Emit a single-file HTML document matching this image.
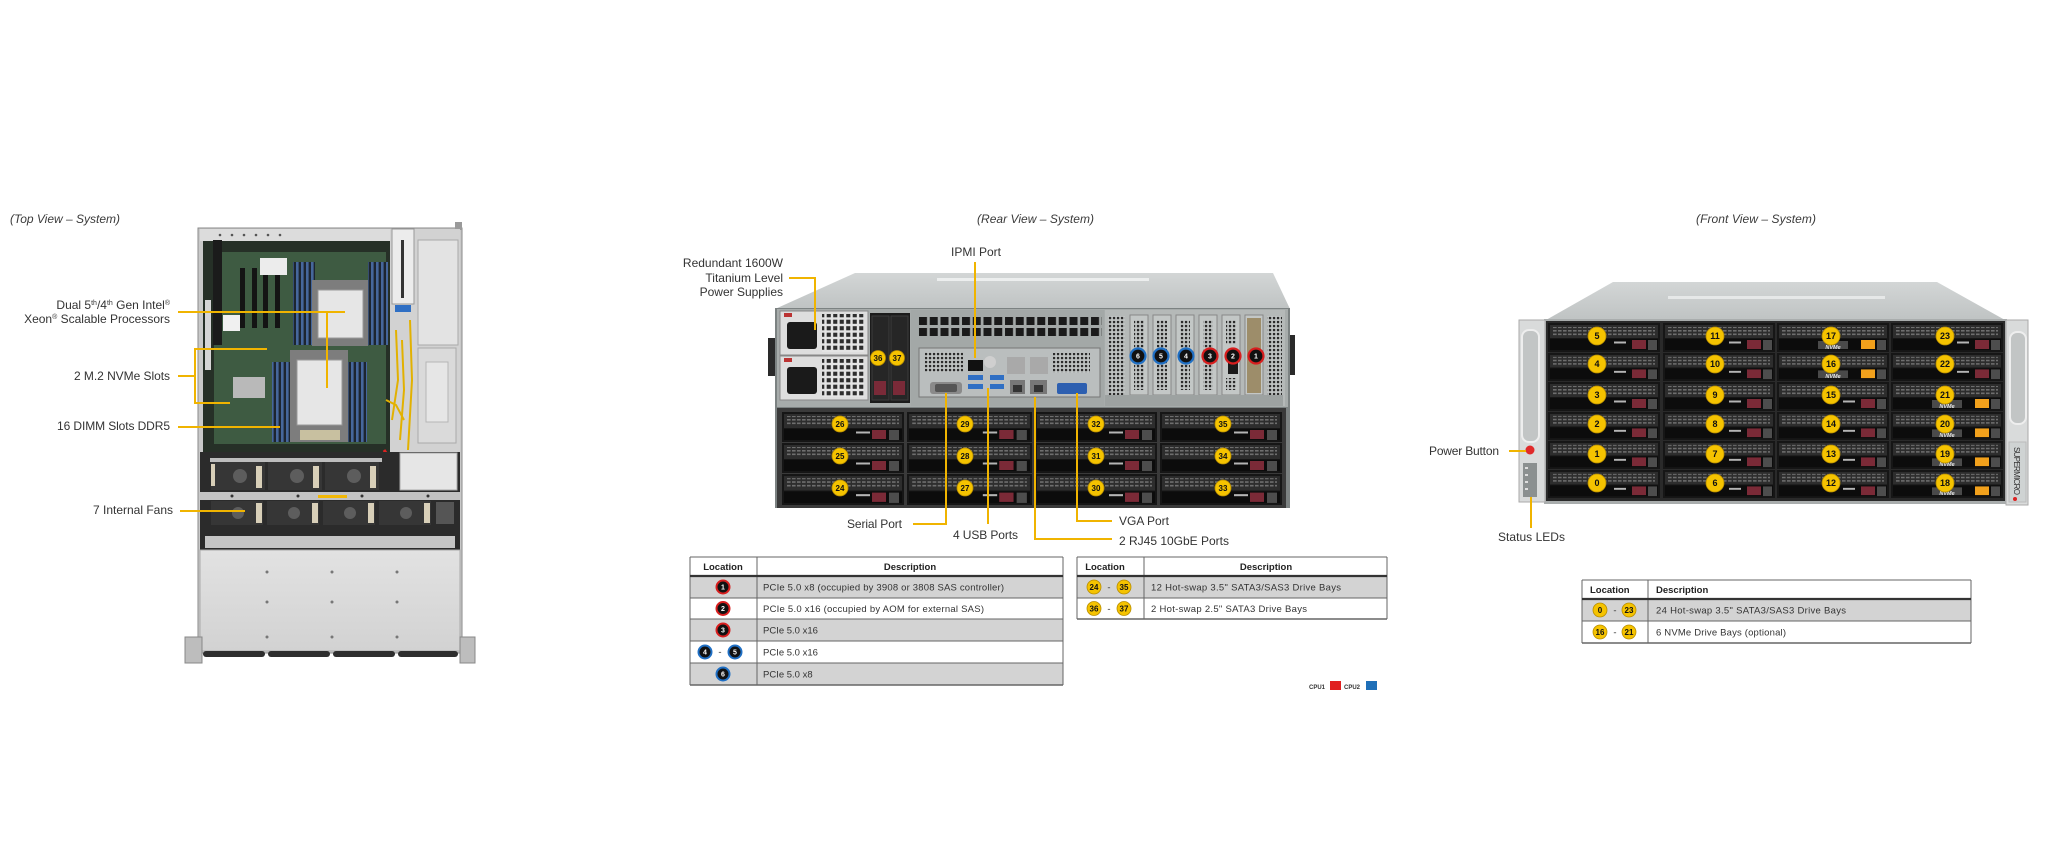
<!DOCTYPE html>
<html lang="en"><head><meta charset="utf-8"><title>System views</title>
<style>
html,body{margin:0;padding:0;background:#ffffff;width:2048px;height:853px;overflow:hidden}
svg{display:block}
text{font-family:"Liberation Sans",Arial,sans-serif;fill:#333}
.lb{font-size:12px}
.tt{font-size:12px;font-style:italic;fill:#3a3a3a}
.th{font-size:9.5px;font-weight:bold;fill:#222}
.td{font-size:9.5px;fill:#333}
.n{font-size:8px;font-weight:bold;fill:#111;text-anchor:middle}
.nf{font-size:9px;font-weight:bold;fill:#111;text-anchor:middle}
.nw{font-size:7px;font-weight:bold;fill:#fff;text-anchor:middle}
.y{stroke:#f0b400;stroke-width:2;fill:none}
.yc{fill:#f5c300;stroke:#b88e00;stroke-width:0.8}
.nv{font-size:5.5px;font-weight:bold;font-style:italic;fill:#e8e8e8;text-anchor:middle}
</style></head><body>
<svg width="2048" height="853" viewBox="0 0 2048 853" xmlns="http://www.w3.org/2000/svg">
<defs>
 <pattern id="grl" width="5" height="3.5" patternUnits="userSpaceOnUse"><rect width="3.6" height="1.6" fill="#6e6e6e"/></pattern>
 <pattern id="vent" width="4" height="4" patternUnits="userSpaceOnUse"><rect width="4" height="4" fill="#c2c6c5"/><rect x="0.9" y="0.9" width="2.3" height="2.3" fill="#2b2b2b"/></pattern>
 <pattern id="hole" x="918" y="316" width="10.75" height="11" patternUnits="userSpaceOnUse"><rect width="10.75" height="11" fill="#a3a8a7"/><rect x="1" y="1" width="8" height="8" fill="#1a1a1a"/></pattern>
 <pattern id="dimm" width="5" height="10" patternUnits="userSpaceOnUse"><rect width="5" height="10" fill="#1d2530"/><rect x="1" width="2.6" height="10" fill="#46679c"/></pattern>
 <pattern id="psuv" width="6.5" height="6.5" patternUnits="userSpaceOnUse"><rect width="6.5" height="6.5" fill="#e4e4e4"/><rect x="1.2" y="1.2" width="4.1" height="4.1" fill="#2d2d2d"/></pattern>
 <linearGradient id="plate" x1="0" y1="0" x2="0" y2="1"><stop offset="0" stop-color="#e2e2e2"/><stop offset="1" stop-color="#d2d2d2"/></linearGradient>
 <linearGradient id="topS" x1="0" y1="0" x2="0" y2="1"><stop offset="0" stop-color="#d3d6d6"/><stop offset="1" stop-color="#bfc3c3"/></linearGradient>
 <symbol id="bR" viewBox="0 0 122 30" preserveAspectRatio="none">
  <rect width="122" height="30" fill="#161616"/>
  <rect x="2" y="2" width="118" height="14" fill="#2d2d2d"/>
  <rect x="5" y="4" width="112" height="10" fill="url(#grl)"/>
  <rect x="2" y="17" width="118" height="11" fill="#0c0c0c"/>
  <rect x="74" y="19.5" width="14" height="2" fill="#b5b5b5"/>
  <rect x="90" y="18" width="14" height="9" fill="#7b2a37"/>
  <rect x="107" y="18" width="10" height="10" fill="#4d4d4d"/>
 </symbol>
 <symbol id="bF" viewBox="0 0 112 29" preserveAspectRatio="none">
  <rect width="112" height="29" fill="#161616"/>
  <rect x="2" y="2" width="108" height="13" fill="#2d2d2d"/>
  <rect x="5" y="4" width="102" height="9" fill="url(#grl)"/>
  <rect x="2" y="16" width="108" height="11" fill="#0c0c0c"/>
  <rect x="66" y="18.5" width="12" height="2" fill="#b5b5b5"/>
  <rect x="84" y="17" width="14" height="9" fill="#7b2a37"/>
  <rect x="100" y="17" width="9" height="10" fill="#4d4d4d"/>
 </symbol>
 <symbol id="bN" viewBox="0 0 112 29" preserveAspectRatio="none">
  <rect width="112" height="29" fill="#161616"/>
  <rect x="2" y="2" width="108" height="13" fill="#2d2d2d"/>
  <rect x="5" y="4" width="102" height="9" fill="url(#grl)"/>
  <rect x="2" y="16" width="108" height="11" fill="#0c0c0c"/>
  <rect x="41" y="18" width="30" height="8" fill="#4a4a4a"/>
  <rect x="84" y="17" width="14" height="9" fill="#f2a11c"/>
  <rect x="100" y="17" width="9" height="10" fill="#4d4d4d"/>
 </symbol>
</defs>

<!-- ================= TOP VIEW ================= -->
<text class="tt" x="10" y="223" textLength="110">(Top View – System)</text>

<rect x="198" y="228" width="264" height="425" fill="#c9c9c9" stroke="#8a8a8a"/>
<rect x="455" y="222" width="7" height="8" fill="#9a9a9a"/>
<rect x="200" y="229" width="190" height="12" fill="#dcdcdc"/>
<g fill="#555"><circle cx="220" cy="235" r="1.3"/><circle cx="232" cy="235" r="1.3"/><circle cx="244" cy="235" r="1.3"/><circle cx="256" cy="235" r="1.3"/><circle cx="268" cy="235" r="1.3"/><circle cx="280" cy="235" r="1.3"/></g>
<rect x="203" y="241" width="188" height="212" fill="#263027"/>
<rect x="214" y="252" width="172" height="192" fill="#3e5b42"/>
<rect x="213" y="240" width="9" height="105" fill="#1b1b1b"/>
<rect x="205" y="300" width="6" height="70" fill="#d5d5d5"/>
<g fill="#141414"><rect x="240" y="268" width="5" height="60"/><rect x="252" y="268" width="5" height="60"/><rect x="263" y="268" width="5" height="60"/><rect x="275" y="268" width="5" height="60"/></g>
<rect x="260" y="258" width="27" height="17" fill="#ececec"/>
<rect x="223" y="315" width="17" height="16" fill="#f0f0f0"/>
<rect x="233" y="377" width="32" height="21" fill="#b9b9b9"/>
<!-- DIMMs -->
<rect x="293" y="262" width="22" height="83" fill="url(#dimm)"/>
<rect x="368" y="262" width="20" height="83" fill="url(#dimm)"/>
<rect x="272" y="362" width="21" height="80" fill="url(#dimm)"/>
<rect x="347" y="362" width="20" height="80" fill="url(#dimm)"/>
<!-- CPUs -->
<rect x="312" y="280" width="56" height="66" fill="#7d7d7d"/>
<rect x="318" y="290" width="45" height="48" fill="#e6e6e6" stroke="#999"/>
<rect x="290" y="350" width="58" height="92" fill="#7d7d7d"/>
<rect x="297" y="360" width="45" height="65" fill="#e6e6e6" stroke="#999"/>
<rect x="300" y="430" width="40" height="10" fill="#c8c0a0"/>
<!-- right PSU bay -->
<rect x="390" y="229" width="70" height="224" fill="#d2d2d2"/>
<rect x="392" y="229" width="22" height="75" fill="#ececec" stroke="#999"/>
<rect x="401" y="240" width="3" height="58" fill="#333"/>
<rect x="395" y="305" width="16" height="7" fill="#2f6fc4"/>
<rect x="418" y="240" width="40" height="105" fill="#e3e3e3" stroke="#aaa"/>
<rect x="418" y="348" width="38" height="95" fill="#dadada" stroke="#aaa"/>
<rect x="426" y="362" width="22" height="60" fill="#e6e6e6" stroke="#b5b5b5"/>
<g stroke="#e2b100" stroke-width="2" fill="none"><path d="M396 330 L398 380 L392 420"/><path d="M402 340 L404 390 L400 440"/><path d="M386 400 L396 405 L404 420"/><path d="M410 320 L412 380 L408 450"/></g>
<path d="M384 450 L392 462 L398 470" stroke="#d22" stroke-width="3" fill="none"/>
<!-- fans -->
<rect x="200" y="452" width="260" height="98" fill="#2b2b2b"/>
<rect x="210" y="458" width="172" height="4" fill="#bdbdbd"/>
<g>
 <rect x="211" y="462" width="54" height="28" fill="#363636"/><circle cx="240" cy="476" r="7" fill="#5d5d5d"/><rect x="256" y="466" width="6" height="22" fill="#d8cfb8"/>
 <rect x="268" y="462" width="54" height="28" fill="#363636"/><circle cx="297" cy="476" r="7" fill="#5d5d5d"/><rect x="313" y="466" width="6" height="22" fill="#d8cfb8"/>
 <rect x="325" y="462" width="54" height="28" fill="#363636"/><circle cx="354" cy="476" r="7" fill="#5d5d5d"/><rect x="370" y="466" width="6" height="22" fill="#d8cfb8"/>
 <rect x="211" y="464" width="4" height="22" fill="#d8cfb8"/>
</g>
<rect x="400" y="453" width="57" height="37" fill="#e6e6e6" stroke="#aaa"/>
<rect x="200" y="492" width="260" height="8" fill="#c2c2c2"/>
<g fill="#333"><circle cx="232" cy="496" r="1.5"/><circle cx="298" cy="496" r="1.5"/><circle cx="362" cy="496" r="1.5"/><circle cx="428" cy="496" r="1.5"/></g>
<rect x="318" y="495" width="29" height="3" fill="#f2b705"/>
<g>
 <rect x="211" y="501" width="52" height="24" fill="#363636"/><circle cx="238" cy="513" r="6" fill="#5d5d5d"/><rect x="256" y="503" width="6" height="20" fill="#d8cfb8"/>
 <rect x="267" y="501" width="52" height="24" fill="#363636"/><circle cx="294" cy="513" r="6" fill="#5d5d5d"/><rect x="312" y="503" width="6" height="20" fill="#d8cfb8"/>
 <rect x="323" y="501" width="52" height="24" fill="#363636"/><circle cx="350" cy="513" r="6" fill="#5d5d5d"/><rect x="368" y="503" width="6" height="20" fill="#d8cfb8"/>
 <rect x="379" y="501" width="52" height="24" fill="#363636"/><circle cx="406" cy="513" r="6" fill="#5d5d5d"/><rect x="424" y="503" width="6" height="20" fill="#d8cfb8"/>
 <rect x="436" y="502" width="18" height="22" fill="#555"/>
</g>
<rect x="205" y="536" width="250" height="12" fill="#c5c5c5"/>
<rect x="200" y="550" width="260" height="101" fill="url(#plate)" stroke="#aaa"/>
<g fill="#777"><circle cx="267" cy="572" r="1.5"/><circle cx="332" cy="572" r="1.5"/><circle cx="397" cy="572" r="1.5"/><circle cx="267" cy="602" r="1.5"/><circle cx="332" cy="602" r="1.5"/><circle cx="397" cy="602" r="1.5"/><circle cx="267" cy="637" r="1.5"/><circle cx="332" cy="637" r="1.5"/><circle cx="397" cy="637" r="1.5"/></g>
<g fill="#2e2e2e"><rect x="203" y="651" width="62" height="6" rx="3"/><rect x="268" y="651" width="62" height="6" rx="3"/><rect x="333" y="651" width="62" height="6" rx="3"/><rect x="398" y="651" width="60" height="6" rx="3"/></g>
<rect x="185" y="637" width="17" height="26" fill="#bdbdbd" stroke="#888"/>
<rect x="460" y="637" width="15" height="26" fill="#bdbdbd" stroke="#888"/>

<!-- top labels -->
<text class="lb" x="170" y="309" text-anchor="end">Dual 5<tspan font-size="7" dy="-4">th</tspan><tspan dy="4">/4</tspan><tspan font-size="7" dy="-4">th</tspan><tspan dy="4"> Gen Intel</tspan><tspan font-size="7" dy="-4">®</tspan></text>
<text class="lb" x="170" y="323" text-anchor="end">Xeon<tspan font-size="7" dy="-4">®</tspan><tspan dy="4"> Scalable Processors</tspan></text>
<text class="lb" x="74" y="380" textLength="96">2 M.2 NVMe Slots</text>
<text class="lb" x="57" y="430" textLength="113">16 DIMM Slots DDR5</text>
<text class="lb" x="93" y="514" textLength="80">7 Internal Fans</text>
<path class="y" d="M178 312 H345 M327 312 V388"/>
<path class="y" d="M178 376 H195 M267 349 H195 V403 H230"/>
<path class="y" d="M178 427 H280"/>
<path class="y" d="M180 511 H245"/>

<!-- ================= REAR VIEW ================= -->
<text class="tt" x="977" y="223" textLength="117">(Rear View – System)</text>

<polygon points="855,273 1273,273 1290,309 775,309" fill="url(#topS)"/>
<rect x="937" y="278" width="212" height="3" fill="#eceeee"/>
<rect x="768" y="338" width="9" height="38" fill="#2a2a2a"/>
<rect x="1287" y="335" width="8" height="40" fill="#2a2a2a"/>
<rect x="775" y="308" width="515" height="200" fill="#7c8282"/>
<rect x="777" y="309" width="511" height="98" fill="#a7acab"/>
<!-- PSUs -->
<rect x="780" y="311" width="88" height="44" fill="#dedede" stroke="#888"/>
<rect x="787" y="322" width="30" height="27" fill="#1a1a1a" rx="3"/>
<rect x="822" y="314" width="42" height="38" fill="url(#psuv)"/>
<rect x="780" y="356" width="88" height="44" fill="#dedede" stroke="#888"/>
<rect x="787" y="367" width="30" height="27" fill="#1a1a1a" rx="3"/>
<rect x="822" y="359" width="42" height="38" fill="url(#psuv)"/>
<rect x="784" y="313" width="8" height="4" fill="#b33"/>
<rect x="784" y="358" width="8" height="4" fill="#b33"/>
<!-- 2.5 bays -->
<rect x="870" y="313" width="40" height="90" fill="#1b1b1b"/>
<rect x="872" y="316" width="17" height="84" fill="#262626" stroke="#3c3c3c"/>
<rect x="891" y="316" width="17" height="84" fill="#262626" stroke="#3c3c3c"/>
<rect x="874" y="381" width="12" height="14" fill="#7a2a38"/>
<rect x="893" y="381" width="12" height="14" fill="#7a2a38"/>
<!-- IO area -->
<rect x="911" y="310" width="193" height="96" fill="#a3a8a7"/>
<rect x="918" y="316" width="184" height="22" fill="url(#hole)"/>
<rect x="919" y="348" width="181" height="49" fill="#babebe" stroke="#777"/>
<rect x="925" y="352" width="38" height="20" fill="url(#vent)"/>
<rect x="968" y="360" width="15" height="11" fill="#111"/>
<circle cx="990" cy="362" r="6" fill="#cfcfcf"/>
<rect x="1007" y="357" width="18" height="17" fill="#a9a9a9"/>
<rect x="1030" y="357" width="18" height="17" fill="#a9a9a9"/>
<rect x="968" y="375" width="15" height="5" fill="#2f6fc4"/>
<rect x="968" y="384" width="15" height="5" fill="#2f6fc4"/>
<rect x="990" y="375" width="14" height="5" fill="#2f6fc4"/>
<rect x="990" y="384" width="14" height="5" fill="#2f6fc4"/>
<rect x="930" y="382" width="32" height="12" rx="3" fill="#8a8a8a"/>
<rect x="935" y="384" width="22" height="8" rx="2" fill="#555"/>
<rect x="1010" y="380" width="15" height="14" fill="#777"/><rect x="1013" y="385" width="9" height="7" fill="#333"/>
<rect x="1030" y="380" width="17" height="14" fill="#777"/><rect x="1034" y="385" width="9" height="7" fill="#333"/>
<rect x="1053" y="353" width="37" height="20" fill="url(#vent)"/>
<rect x="1057" y="383" width="30" height="11" rx="2" fill="#2d5fb0"/>
<!-- PCIe area -->
<rect x="1105" y="310" width="180" height="96" fill="#b5b9b8"/>
<rect x="1108" y="316" width="17" height="80" fill="url(#vent)"/>
<g stroke="#888" fill="#c3c7c6">
 <rect x="1130" y="315" width="18" height="80"/><rect x="1153" y="315" width="18" height="80"/><rect x="1176" y="315" width="18" height="80"/><rect x="1199" y="315" width="18" height="80"/><rect x="1222" y="315" width="18" height="80"/><rect x="1245" y="315" width="18" height="80"/>
</g>
<g fill="url(#vent)">
 <rect x="1134" y="320" width="10" height="70"/><rect x="1157" y="320" width="10" height="70"/><rect x="1180" y="320" width="10" height="70"/><rect x="1203" y="320" width="10" height="70"/><rect x="1226" y="320" width="10" height="24"/><rect x="1226" y="378" width="10" height="12"/>
</g>
<rect x="1247" y="318" width="14" height="75" fill="#9d8d6a"/>
<rect x="1228" y="360" width="10" height="14" fill="#1a1a1a"/>
<rect x="1267" y="316" width="15" height="80" fill="url(#vent)"/>
<rect x="1105" y="395" width="178" height="11" fill="#9da2a1"/>
<!-- PCIe markers -->
<g stroke-width="2.2">
 <circle cx="1138" cy="356" r="7.5" fill="#111" stroke="#1f6fc4"/>
 <circle cx="1161" cy="356" r="7.5" fill="#111" stroke="#1f6fc4"/>
 <circle cx="1186" cy="356" r="7.5" fill="#111" stroke="#1f6fc4"/>
 <circle cx="1210" cy="356" r="7.5" fill="#111" stroke="#d81e1e"/>
 <circle cx="1233" cy="356" r="7.5" fill="#111" stroke="#d81e1e"/>
 <circle cx="1256" cy="356" r="7.5" fill="#111" stroke="#d81e1e"/>
</g>
<text class="nw" x="1138" y="358.5">6</text><text class="nw" x="1161" y="358.5">5</text><text class="nw" x="1186" y="358.5">4</text><text class="nw" x="1210" y="358.5">3</text><text class="nw" x="1233" y="358.5">2</text><text class="nw" x="1256" y="358.5">1</text>
<!-- rear drive bays -->
<rect x="777" y="408" width="509" height="100" fill="#3a3a3a"/>
<use href="#bR" x="782" y="412" width="122" height="30"/><use href="#bR" x="782" y="443" width="122" height="30"/><use href="#bR" x="782" y="474" width="122" height="31"/>
<use href="#bR" x="907" y="412" width="125" height="30"/><use href="#bR" x="907" y="443" width="125" height="30"/><use href="#bR" x="907" y="474" width="125" height="31"/>
<use href="#bR" x="1035" y="412" width="122" height="30"/><use href="#bR" x="1035" y="443" width="122" height="30"/><use href="#bR" x="1035" y="474" width="122" height="31"/>
<use href="#bR" x="1160" y="412" width="122" height="30"/><use href="#bR" x="1160" y="443" width="122" height="30"/><use href="#bR" x="1160" y="474" width="122" height="31"/>
<g class="yc">
 <circle cx="840" cy="424" r="8"/><circle cx="840" cy="456" r="8"/><circle cx="840" cy="488" r="8"/>
 <circle cx="965" cy="424" r="8"/><circle cx="965" cy="456" r="8"/><circle cx="965" cy="488" r="8"/>
 <circle cx="1096" cy="424" r="8"/><circle cx="1096" cy="456" r="8"/><circle cx="1096" cy="488" r="8"/>
 <circle cx="1223" cy="424" r="8"/><circle cx="1223" cy="456" r="8"/><circle cx="1223" cy="488" r="8"/>
 <circle cx="878" cy="358" r="7.5"/><circle cx="897" cy="358" r="7.5"/>
</g>
<text class="n" x="840" y="427">26</text><text class="n" x="840" y="459">25</text><text class="n" x="840" y="491">24</text>
<text class="n" x="965" y="427">29</text><text class="n" x="965" y="459">28</text><text class="n" x="965" y="491">27</text>
<text class="n" x="1096" y="427">32</text><text class="n" x="1096" y="459">31</text><text class="n" x="1096" y="491">30</text>
<text class="n" x="1223" y="427">35</text><text class="n" x="1223" y="459">34</text><text class="n" x="1223" y="491">33</text>
<text class="n" x="878" y="361">36</text><text class="n" x="897" y="361">37</text>

<!-- rear labels -->
<text class="lb" x="783" y="267" text-anchor="end">Redundant  1600W</text>
<text class="lb" x="783" y="282" text-anchor="end">Titanium  Level</text>
<text class="lb" x="783" y="296" text-anchor="end">Power Supplies</text>
<text class="lb" x="976" y="256" text-anchor="middle">IPMI  Port</text>
<text class="lb" x="847" y="528" textLength="55">Serial Port</text>
<text class="lb" x="953" y="539" textLength="65">4 USB Ports</text>
<text class="lb" x="1119" y="525" textLength="50">VGA Port</text>
<text class="lb" x="1119" y="545" textLength="110">2 RJ45 10GbE Ports</text>
<path class="y" d="M789 278 H815 V330"/>
<path class="y" d="M975 262 V358"/>
<path class="y" d="M913 524 H946 V393"/>
<path class="y" d="M988 388 V524"/>
<path class="y" d="M1035 397 V539 H1112"/>
<path class="y" d="M1077 393 V521 H1112"/>

<!-- rear table 1 -->
<rect x="690" y="576" width="373" height="22" fill="#d3d3d3"/>
<rect x="690" y="619" width="373" height="22" fill="#d3d3d3"/>
<rect x="690" y="663" width="373" height="22" fill="#d3d3d3"/>
<g stroke="#666" stroke-width="1">
 <line x1="690" y1="557" x2="1063" y2="557"/>
 <line x1="690" y1="557" x2="690" y2="685"/>
 <line x1="1063" y1="557" x2="1063" y2="685"/>
 <line x1="757" y1="557" x2="757" y2="685"/>
 <line x1="690" y1="598" x2="1063" y2="598"/>
 <line x1="690" y1="619" x2="1063" y2="619"/>
 <line x1="690" y1="641" x2="1063" y2="641"/>
 <line x1="690" y1="663" x2="1063" y2="663"/>
 <line x1="690" y1="685" x2="1063" y2="685" stroke-width="1.5"/>
</g>
<line x1="690" y1="576" x2="1063" y2="576" stroke="#333" stroke-width="2.2"/>
<text class="th" x="723" y="570" text-anchor="middle">Location</text>
<text class="th" x="910" y="570" text-anchor="middle">Description</text>
<g stroke-width="2">
 <circle cx="723" cy="587" r="6.5" fill="#111" stroke="#d81e1e"/>
 <circle cx="723" cy="608.5" r="6.5" fill="#111" stroke="#d81e1e"/>
 <circle cx="723" cy="630" r="6.5" fill="#111" stroke="#d81e1e"/>
 <circle cx="705" cy="652" r="6.5" fill="#111" stroke="#1f6fc4"/>
 <circle cx="735" cy="652" r="6.5" fill="#111" stroke="#1f6fc4"/>
 <circle cx="723" cy="674" r="6.5" fill="#111" stroke="#1f6fc4"/>
</g>
<text class="nw" x="723" y="589.5">1</text><text class="nw" x="723" y="611">2</text><text class="nw" x="723" y="632.5">3</text><text class="nw" x="705" y="654.5">4</text><text class="nw" x="735" y="654.5">5</text><text class="nw" x="723" y="676.5">6</text>
<text class="td" x="720" y="655" text-anchor="middle">-</text>
<text class="td" x="763" y="590.5" textLength="241">PCIe 5.0 x8 (occupied by 3908 or 3808 SAS controller)</text>
<text class="td" x="763" y="612" textLength="221">PCIe 5.0 x16 (occupied by AOM for external SAS)</text>
<text class="td" x="763" y="633.5">PCIe 5.0 x16</text>
<text class="td" x="763" y="655.5">PCIe 5.0 x16</text>
<text class="td" x="763" y="677.5">PCIe 5.0 x8</text>

<!-- rear table 2 -->
<rect x="1077" y="576" width="310" height="22" fill="#d3d3d3"/>
<g stroke="#666" stroke-width="1">
 <line x1="1077" y1="557" x2="1387" y2="557"/>
 <line x1="1077" y1="557" x2="1077" y2="619"/>
 <line x1="1387" y1="557" x2="1387" y2="619"/>
 <line x1="1144" y1="557" x2="1144" y2="619"/>
 <line x1="1077" y1="598" x2="1387" y2="598"/>
 <line x1="1077" y1="619" x2="1387" y2="619" stroke-width="1.5"/>
</g>
<line x1="1077" y1="576" x2="1387" y2="576" stroke="#333" stroke-width="2.2"/>
<text class="th" x="1105" y="570" text-anchor="middle">Location</text>
<text class="th" x="1266" y="570" text-anchor="middle">Description</text>
<g class="yc"><circle cx="1094" cy="587" r="7"/><circle cx="1124" cy="587" r="7"/><circle cx="1094" cy="608.5" r="7"/><circle cx="1124" cy="608.5" r="7"/></g>
<text class="n" x="1094" y="590">24</text><text class="n" x="1124" y="590">35</text><text class="n" x="1094" y="611.5">36</text><text class="n" x="1124" y="611.5">37</text>
<text class="td" x="1109" y="590.5" text-anchor="middle">-</text><text class="td" x="1109" y="612" text-anchor="middle">-</text>
<text class="td" x="1151" y="590.5" textLength="190">12 Hot-swap 3.5" SATA3/SAS3 Drive  Bays</text>
<text class="td" x="1151" y="612" textLength="156">2 Hot-swap 2.5" SATA3 Drive  Bays</text>

<!-- CPU legend -->
<text x="1309" y="689" font-size="6" font-weight="bold" fill="#333">CPU1</text>
<rect x="1330" y="681" width="11" height="9" fill="#e01f1f"/>
<text x="1344" y="689" font-size="6" font-weight="bold" fill="#333">CPU2</text>
<rect x="1366" y="681" width="11" height="9" fill="#1f6fb8"/>

<!-- ================= FRONT VIEW ================= -->
<text class="tt" x="1696" y="223" textLength="120">(Front View – System)</text>

<polygon points="1613,282 1937,282 2005,320 1546,320" fill="url(#topS)"/>
<rect x="1668" y="296" width="217" height="3" fill="#e6e8e8"/>
<rect x="1544" y="319" width="463" height="185" fill="#a9adad"/>
<rect x="1546" y="321" width="459" height="180" fill="#2a2a2a"/>
<!-- ears -->
<rect x="1519" y="320" width="26" height="182" fill="#d9dbdb" stroke="#aaa"/>
<rect x="1522" y="330" width="17" height="112" rx="7" fill="#c2c5c5" stroke="#eeeeee" stroke-width="2"/>
<circle cx="1530" cy="450" r="4.5" fill="#e02a2a"/>
<rect x="1523" y="463" width="14" height="34" fill="#8b9090"/>
<g fill="#ddd"><rect x="1525" y="467" width="3" height="2"/><rect x="1525" y="474" width="3" height="2"/><rect x="1525" y="481" width="3" height="2"/><rect x="1525" y="488" width="3" height="2"/></g>
<rect x="2006" y="320" width="22" height="185" fill="#d9dbdb" stroke="#aaa"/>
<rect x="2010" y="332" width="16" height="92" rx="7" fill="#c2c5c5" stroke="#eeeeee" stroke-width="2"/>
<rect x="2009" y="442" width="17" height="60" fill="#cfd3d3" stroke="#bbb"/>
<text x="2014" y="447" font-family="Liberation Serif, serif" font-size="8" fill="#555" transform="rotate(90 2014 447)" textLength="48">SUPERMICRO</text>
<circle cx="2015" cy="499" r="2" fill="#d22"/>
<!-- front bays -->
<use href="#bF" x="1548" y="323" width="112" height="29"/><use href="#bF" x="1548" y="353" width="112" height="28"/><use href="#bF" x="1548" y="382" width="112" height="29"/><use href="#bF" x="1548" y="412" width="112" height="28"/><use href="#bF" x="1548" y="441" width="112" height="28"/><use href="#bF" x="1548" y="470" width="112" height="28"/>
<use href="#bF" x="1663" y="323" width="112" height="29"/><use href="#bF" x="1663" y="353" width="112" height="28"/><use href="#bF" x="1663" y="382" width="112" height="29"/><use href="#bF" x="1663" y="412" width="112" height="28"/><use href="#bF" x="1663" y="441" width="112" height="28"/><use href="#bF" x="1663" y="470" width="112" height="28"/>
<use href="#bN" x="1777" y="323" width="112" height="29"/><use href="#bN" x="1777" y="353" width="112" height="28"/><use href="#bF" x="1777" y="382" width="112" height="29"/><use href="#bF" x="1777" y="412" width="112" height="28"/><use href="#bF" x="1777" y="441" width="112" height="28"/><use href="#bF" x="1777" y="470" width="112" height="28"/>
<use href="#bF" x="1891" y="323" width="112" height="29"/><use href="#bF" x="1891" y="353" width="112" height="28"/><use href="#bN" x="1891" y="382" width="112" height="29"/><use href="#bN" x="1891" y="412" width="112" height="28"/><use href="#bN" x="1891" y="441" width="112" height="28"/><use href="#bN" x="1891" y="470" width="112" height="28"/>
<text class="nv" x="1833" y="349">NVMe</text><text class="nv" x="1833" y="378">NVMe</text>
<text class="nv" x="1947" y="408">NVMe</text><text class="nv" x="1947" y="437">NVMe</text><text class="nv" x="1947" y="466">NVMe</text><text class="nv" x="1947" y="495">NVMe</text>
<g class="yc">
 <circle cx="1597" cy="336" r="9"/><circle cx="1597" cy="364" r="9"/><circle cx="1597" cy="395" r="9"/><circle cx="1597" cy="424" r="9"/><circle cx="1597" cy="454" r="9"/><circle cx="1597" cy="483" r="9"/>
 <circle cx="1715" cy="336" r="9"/><circle cx="1715" cy="364" r="9"/><circle cx="1715" cy="395" r="9"/><circle cx="1715" cy="424" r="9"/><circle cx="1715" cy="454" r="9"/><circle cx="1715" cy="483" r="9"/>
 <circle cx="1831" cy="336" r="9"/><circle cx="1831" cy="364" r="9"/><circle cx="1831" cy="395" r="9"/><circle cx="1831" cy="424" r="9"/><circle cx="1831" cy="454" r="9"/><circle cx="1831" cy="483" r="9"/>
 <circle cx="1945" cy="336" r="9"/><circle cx="1945" cy="364" r="9"/><circle cx="1945" cy="395" r="9"/><circle cx="1945" cy="424" r="9"/><circle cx="1945" cy="454" r="9"/><circle cx="1945" cy="483" r="9"/>
</g>
<text class="nf" x="1597" y="339">5</text><text class="nf" x="1597" y="367">4</text><text class="nf" x="1597" y="398">3</text><text class="nf" x="1597" y="427">2</text><text class="nf" x="1597" y="457">1</text><text class="nf" x="1597" y="486">0</text>
<text class="nf" x="1715" y="339">11</text><text class="nf" x="1715" y="367">10</text><text class="nf" x="1715" y="398">9</text><text class="nf" x="1715" y="427">8</text><text class="nf" x="1715" y="457">7</text><text class="nf" x="1715" y="486">6</text>
<text class="nf" x="1831" y="339">17</text><text class="nf" x="1831" y="367">16</text><text class="nf" x="1831" y="398">15</text><text class="nf" x="1831" y="427">14</text><text class="nf" x="1831" y="457">13</text><text class="nf" x="1831" y="486">12</text>
<text class="nf" x="1945" y="339">23</text><text class="nf" x="1945" y="367">22</text><text class="nf" x="1945" y="398">21</text><text class="nf" x="1945" y="427">20</text><text class="nf" x="1945" y="457">19</text><text class="nf" x="1945" y="486">18</text>

<!-- front labels -->
<text class="lb" x="1429" y="455" textLength="70">Power Button</text>
<text class="lb" x="1498" y="541" textLength="67">Status  LEDs</text>
<path class="y" d="M1509 451 H1526"/>
<path class="y" d="M1531 497 V528"/>

<!-- front table -->
<rect x="1582" y="599" width="389" height="22" fill="#d3d3d3"/>
<g stroke="#666" stroke-width="1">
 <line x1="1582" y1="580" x2="1971" y2="580"/>
 <line x1="1582" y1="580" x2="1582" y2="643"/>
 <line x1="1971" y1="580" x2="1971" y2="643"/>
 <line x1="1648" y1="580" x2="1648" y2="643"/>
 <line x1="1582" y1="621" x2="1971" y2="621"/>
 <line x1="1582" y1="643" x2="1971" y2="643" stroke-width="1.5"/>
</g>
<line x1="1582" y1="599" x2="1971" y2="599" stroke="#333" stroke-width="2.2"/>
<text class="th" x="1590" y="593">Location</text>
<text class="th" x="1656" y="593">Description</text>
<g class="yc"><circle cx="1600" cy="610" r="7"/><circle cx="1629" cy="610" r="7"/><circle cx="1600" cy="632" r="7"/><circle cx="1629" cy="632" r="7"/></g>
<text class="n" x="1600" y="613">0</text><text class="n" x="1629" y="613">23</text><text class="n" x="1600" y="635">16</text><text class="n" x="1629" y="635">21</text>
<text class="td" x="1615" y="613.5" text-anchor="middle">-</text><text class="td" x="1615" y="635.5" text-anchor="middle">-</text>
<text class="td" x="1656" y="613.5" textLength="190">24 Hot-swap  3.5" SATA3/SAS3 Drive  Bays</text>
<text class="td" x="1656" y="635.5" textLength="130">6 NVMe Drive  Bays (optional)</text>
</svg>
</body></html>
